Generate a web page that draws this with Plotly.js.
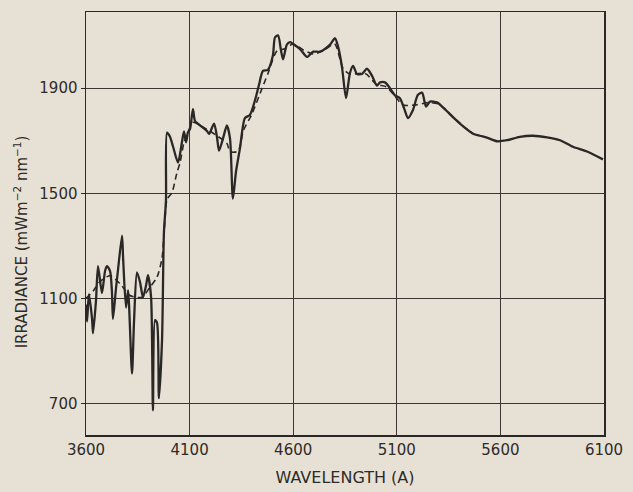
<!DOCTYPE html>
<html><head><meta charset="utf-8">
<script src="https://cdn.plot.ly/plotly-3.0.1.min.js"></script>
<style>html,body{margin:0;padding:0;background:#e7e1d5;}</style>
</head><body>
<div id="chart" style="width:633px;height:492px;"></div>
<script>
// Solid (high-resolution) spectrum
const wlSolid = [3600,3605,3614,3629,3634,3648,3658,3677,3692,3701,3716,3725,3730,3745,3754,3774,3779,3793,3803,3822,3832,3846,3861,3875,3890,3899,3914,3923,3933,3943,3952,3967,3976,3986,3991,4005,4020,4044,4063,4073,4083,4092,4102,4116,4126,4141,4184,4194,4218,4232,4242,4261,4280,4295,4309,4324,4343,4367,4391,4416,4435,4454,4478,4502,4512,4527,4541,4551,4570,4585,4599,4633,4667,4696,4729,4778,4802,4816,4835,4855,4874,4889,4908,4932,4956,4980,5004,5019,5043,5067,5091,5115,5135,5154,5178,5202,5222,5241,5260,5294,5323,5371,5419,5468,5501,5535,5583,5632,5694,5757,5825,5888,5950,6018,6095];
const irrSolid = [1077,1012,1115,1024,967,1089,1223,1120,1204,1223,1204,1128,1022,1140,1205,1339,1255,1065,1130,814,1016,1199,1161,1104,1150,1188,1105,674,1017,1006,720,942,1349,1475,1731,1716,1678,1617,1694,1736,1694,1732,1744,1820,1775,1764,1737,1726,1765,1715,1662,1708,1758,1709,1480,1583,1671,1786,1798,1855,1913,1966,1970,2024,2093,2101,2044,2010,2067,2075,2068,2049,2019,2039,2039,2066,2090,2060,1983,1862,1958,1985,1954,1954,1974,1948,1910,1922,1922,1900,1873,1862,1824,1786,1817,1875,1883,1830,1849,1846,1827,1790,1756,1727,1719,1712,1698,1702,1715,1719,1713,1702,1677,1659,1629];
// Dashed (smoothed) spectrum
const wlDashed = [3600,3634,3668,3716,3764,3812,3870,3909,3943,3967,3981,3991,4015,4039,4054,4073,4092,4116,4170,4230,4280,4295,4334,4360,4400,4440,4480,4520,4560,4600,4650,4700,4750,4800,4840,4870,4950,5000,5050,5090,5130,5197,5250,5300,5371,5419,5468];
const irrDashed = [1100,1127,1165,1186,1156,1111,1104,1143,1181,1254,1399,1476,1503,1579,1617,1694,1732,1770,1750,1720,1690,1659,1660,1740,1800,1880,1960,2040,2050,2068,2045,2030,2045,2068,1976,1955,1955,1915,1905,1870,1836,1837,1845,1840,1790,1756,1727];
const xTicks = [3600,4100,4600,5100,5600,6100];
const yTicks = [700,1100,1500,1900];

const ink = '#2a2826';
const traces = [
  {x: wlSolid, y: irrSolid, mode:'lines', line:{color:ink, width:2.3, shape:'spline', smoothing:0.7}, hoverinfo:'skip'},
  {x: wlDashed, y: irrDashed, mode:'lines', line:{color:ink, width:1.6, dash:'6px,4px', shape:'spline', smoothing:0.7}, hoverinfo:'skip'}
];
const fam = 'DejaVu Sans, Liberation Sans, sans-serif';
const axFont = {family:fam, size:15, color:'#2e2b28'};
const layout = {
  width:633, height:492,
  margin:{l:86, r:29, t:12, b:57},
  paper_bgcolor:'#e7e1d5', plot_bgcolor:'#e7e1d5',
  showlegend:false,
  xaxis:{range:[3600,6100], tickvals:xTicks, ticktext:xTicks.map(String), showgrid:true, gridcolor:'#3a3633', gridwidth:1.2,
         zeroline:false, showline:true, linecolor:ink, linewidth:1.5, mirror:true, ticks:'', tickfont:axFont,
         title:{text:'WAVELENGTH (A)', font:{family:fam, size:16, color:'#2e2b28'}, standoff:14}},
  yaxis:{range:[580,2190], tickvals:yTicks, ticktext:yTicks.map(String), showgrid:true, gridcolor:'#3a3633', gridwidth:1.2,
         zeroline:false, showline:true, linecolor:ink, linewidth:1.5, mirror:true, ticks:'outside', ticklen:4, tickcolor:ink, tickfont:axFont},
  annotations:[{xref:'paper', yref:'paper', x:-0.125, y:0.456, xanchor:'center', yanchor:'middle', textangle:-90, showarrow:false,
    text:'IRRADIANCE (mWm<sup>−2</sup> nm<sup>−1</sup>)', font:{family:fam, size:15, color:'#2e2b28'}}]
};
Plotly.newPlot('chart', traces, layout, {displayModeBar:false, staticPlot:true});
</script>
</body></html>
